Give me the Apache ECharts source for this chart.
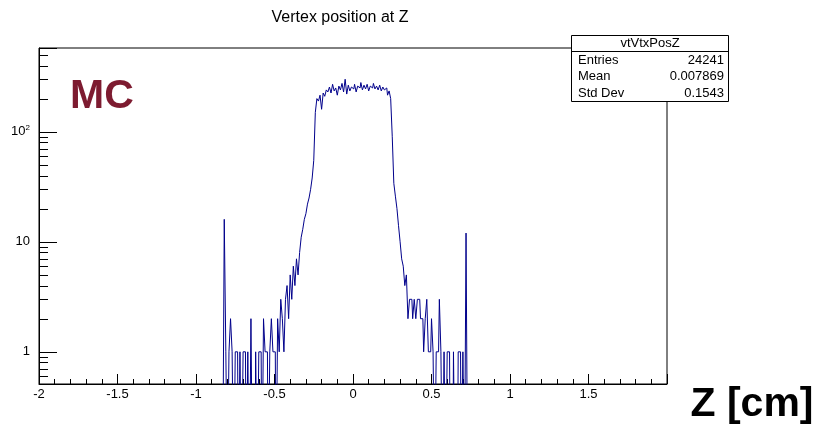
<!DOCTYPE html>
<html><head><meta charset="utf-8">
<script src="https://cdn.jsdelivr.net/npm/echarts@6/dist/echarts.min.js"></script>
<style>html,body{margin:0;padding:0;background:#fff}#c{width:819px;height:427px}</style>
</head><body><div id="c"></div><script>
// Histogram definition (bins of 0.01 starting at -0.85)
const binLow = -0.85;
const binWidth = 0.01;
const counts = [
  0, 0, 0, 16, 1, 0, 1, 2, 1, 0,          // -0.85 .. -0.76
  1, 1, 0, 1, 0, 1, 1, 0, 1, 0,           // -0.75 .. -0.66
  2, 0, 0, 1, 0, 1, 1, 0, 2, 1,           // -0.65 .. -0.56
  1, 0, 1, 2, 1, 1, 0, 2, 1, 3,           // -0.55 .. -0.46
  2, 1, 3, 4, 2, 5, 3, 6, 4, 7,           // -0.45 .. -0.36
  5, 8, 11, 13, 16, 18, 22, 25, 30, 38,   // -0.35 .. -0.26
  55, 150, 200,                           // -0.25 .. -0.23
  190, 215, 160, 225, 210, 240, 230, 255, 225, 270,   // -0.22 .. -0.13
  235, 250, 215, 260, 240, 275, 230, 300, 220, 265,   // -0.12 .. -0.03
  235, 255, 245, 270, 230, 260, 250, 280, 240, 265,   // -0.02 .. 0.07
  245, 270, 235, 260, 250, 275, 245, 260, 240, 265,   // 0.08 .. 0.17
  235, 255, 240, 250, 215, 235,                       // 0.18 .. 0.23
  200, 90, 34, 26, 20, 14, 10, 7, 6, 4,   // 0.24 .. 0.33
  5, 2, 3, 3, 2, 3, 2, 3, 3, 2,           // 0.34 .. 0.43
  2, 1, 2, 3, 1, 1, 2, 1, 0, 1,           // 0.44 .. 0.53
  1, 3, 1, 0, 1, 0, 1, 1, 0, 0,           // 0.54 .. 0.63
  1, 0, 0, 1, 1, 0, 1, 0, 12, 0, 0        // 0.64 .. 0.74
];
const xTickLabels = ['-2', '-1.5', '-1', '-0.5', '0', '0.5', '1', '1.5'];
const yMajorLabels = { '1': '1', '10': '10', '100': '10{s|2}' };
const yMinorTicks = [0.6, 0.7, 0.8, 0.9, 2, 3, 4, 5, 6, 7, 8, 9, 20, 30, 40, 50, 60, 70, 80, 90, 200, 300, 400, 500];
const statsName = 'vtVtxPosZ';
const statsRows = [['Entries', '24241'], ['Mean', '0.007869'], ['Std Dev', '0.1543']];
const titleText = 'Vertex position at Z';

const FONT = '"Liberation Sans", Arial, sans-serif';
const chart = echarts.init(document.getElementById('c'), null, { renderer: 'canvas' });

const histData = counts.map((c, i) => [binLow + (i + 0.5) * binWidth, c > 0 ? c : 0.05]);

const graphics = [
  { type: 'text', x: 340, y: 18, style: { text: titleText, align: 'center', verticalAlign: 'middle', font: '16px ' + FONT, fill: '#000' } },
  { type: 'text', x: 70, y: 97, style: { text: 'MC', align: 'left', verticalAlign: 'middle', font: 'bold 41px ' + FONT, fill: '#7d1b30' }, z: 50 },
  { type: 'text', x: 752, y: 405, style: { text: 'Z [cm]', align: 'center', verticalAlign: 'middle', font: 'bold 41px ' + FONT, fill: '#000' } },
  { type: 'rect', shape: { x: 571.5, y: 35.5, width: 157, height: 66 }, style: { fill: '#fff', stroke: '#000', lineWidth: 1 }, z: 100 },
  { type: 'line', shape: { x1: 571.5, y1: 51.5, x2: 728.5, y2: 51.5 }, style: { stroke: '#000', lineWidth: 1 }, z: 101 },
  { type: 'text', x: 650, y: 43.5, style: { text: statsName, align: 'center', verticalAlign: 'middle', font: '13px ' + FONT, fill: '#000' }, z: 101 }
];
statsRows.forEach((r, k) => {
  const yy = 60 + k * 16.5;
  graphics.push({ type: 'text', x: 578, y: yy, style: { text: r[0], align: 'left', verticalAlign: 'middle', font: '13px ' + FONT, fill: '#000' }, z: 101 });
  graphics.push({ type: 'text', x: 724, y: yy, style: { text: r[1], align: 'right', verticalAlign: 'middle', font: '13px ' + FONT, fill: '#000' }, z: 101 });
});

chart.setOption({
  animation: false,
  backgroundColor: '#fff',
  grid: { left: 39, right: 152, top: 48, bottom: 43, show: true, borderColor: '#000', borderWidth: 1, backgroundColor: 'transparent' },
  xAxis: {
    type: 'value', min: -2, max: 2, interval: 0.5,
    axisLine: { show: true, onZero: false, lineStyle: { color: '#000', width: 1 } },
    axisTick: { show: true, inside: true, length: 10, lineStyle: { color: '#000' } },
    minorTick: { show: true, splitNumber: 5, length: 5, lineStyle: { color: '#000' } },
    splitLine: { show: false },
    axisLabel: {
      margin: 4, color: '#000', fontFamily: FONT, fontSize: 13,
      formatter: v => { const idx = Math.round((v + 2) / 0.5); return xTickLabels[idx] !== undefined ? xTickLabels[idx] : ''; }
    }
  },
  yAxis: {
    type: 'log', logBase: 10, min: 0.51, max: 577,
    axisLine: { show: true, onZero: false, lineStyle: { color: '#000', width: 1 } },
    axisTick: { show: true, inside: true, length: 18, lineStyle: { color: '#000' } },
    splitLine: { show: false },
    axisLabel: {
      margin: 9, color: '#000', fontFamily: FONT, fontSize: 13,
      formatter: v => { const key = String(Math.round(v)); return (Math.abs(v - Math.round(v)) < 1e-6 && yMajorLabels[key]) ? yMajorLabels[key] : ''; },
      rich: { s: { fontSize: 8, fontFamily: FONT, color: '#000', padding: [0, 0, 8, 0] } }
    }
  },
  series: [
    {
      type: 'line', step: 'middle', data: histData, showSymbol: false, symbol: 'none', clip: true,
      lineStyle: { color: '#00008b', width: 1 }, silent: true, z: 5
    },
    {
      type: 'custom', coordinateSystem: 'cartesian2d', silent: true, clip: false, z: 6,
      data: yMinorTicks.map(v => [-2, v]),
      renderItem: (params, api) => {
        const p = api.coord([api.value(0), api.value(1)]);
        const y = Math.round(p[1]) + 0.5;
        return { type: 'line', shape: { x1: p[0], y1: y, x2: p[0] + 9, y2: y }, style: { stroke: '#000', lineWidth: 1 } };
      }
    }
  ],
  graphic: graphics
});
</script></body></html>
